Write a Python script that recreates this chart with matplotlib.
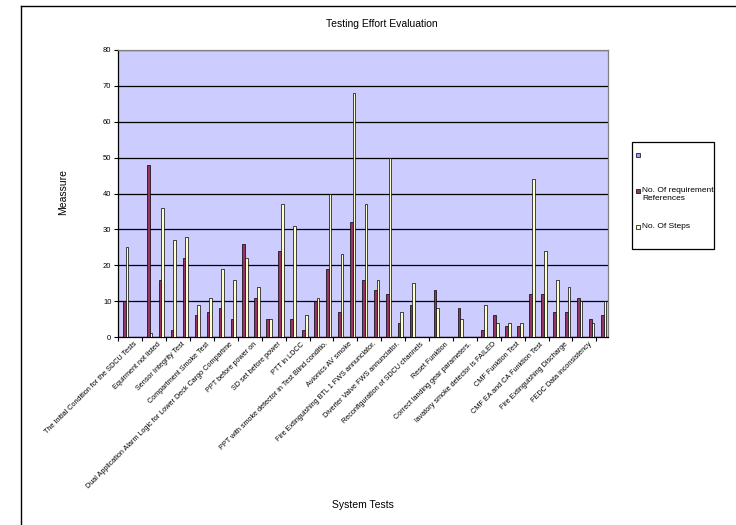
import matplotlib
matplotlib.use("Agg")
import matplotlib.pyplot as plt
import numpy as np
from matplotlib.patches import Rectangle
from matplotlib.lines import Line2D

plt.rcParams['font.family'] = ['Liberation Sans', 'DejaVu Sans']

# ---------------- data ----------------
title = "Testing Effort Evaluation"
x_title = "System Tests"
y_title = "Meassure"
series_names = ["", "No. Of requirement\nReferences", "No. Of Steps"]

# category labels (blank entries are unlabeled categories)
categories = [
    "", "The Initial Condition for the SDCU Tests", "", "Equirment not listed", "",
    "Sensor Integrity Test", "", "Compartment Smoke Test", "",
    "Dual Application Alarm Logic for Lower Deck Cargo Compartme", "",
    "PPT before power on", "", "SD set before power", "", "PTT in LDCC", "",
    "PPT with smoke detector in Test Blind conditio.", "", "Avionics AV smoke", "",
    "Fire Extinguishing BTL 1 FWS annunciator.", "", "Diverter Valve FWS annunciator.", "",
    "Reconfiguration of SDCU channels", "", "Reset Funktion", "",
    "Correct landing gear parameters.", "", "lavatory smoke detector is FAILED", "",
    "CMF Funktion Test", "", "CMF EA and CA Funktion Test", "",
    "Fire Extinguishing Discharge", "", "FEDC Data inconsistency", "",
]

series1 = [0] * 41
req_refs = [10, 0, 48, 16, 2, 22, 6, 7, 8, 5, 26, 11, 5, 24, 5, 2, 10, 19, 7, 32,
            16, 13, 12, 4, 9, 0, 13, 0, 8, 0, 2, 6, 3, 3, 12, 12, 7, 7, 11, 5, 6]
steps = [25, 0, 1, 36, 27, 28, 9, 11, 19, 16, 22, 14, 5, 37, 31, 6, 11, 40, 23, 68,
         37, 16, 50, 7, 15, 0, 8, 0, 5, 0, 9, 4, 4, 4, 44, 24, 16, 14, 10, 4, 10]

y_ticks = [0, 10, 20, 30, 40, 50, 60, 70, 80]

colors = ["#9999FF", "#993366", "#FFFFCC"]
plot_bg = "#CCCCFF"

# ---------------- figure ----------------
W, H = 736, 525
fig = plt.figure(figsize=(W / 100, H / 100), dpi=100)
fig.patch.set_facecolor("white")

def fx(px):
    return px / W

def fy(py):
    return 1 - py / H

left, right, top, bottom = 118.3, 608.3, 50.0, 337.0
ax = fig.add_axes([fx(left), fy(bottom), fx(right) - fx(left), (bottom - top) / H])
ax.set_facecolor(plot_bg)

n = len(categories)
x = np.arange(n)
bw = 1 / 4.5
all_series = [series1, req_refs, steps]
for i, (vals, c) in enumerate(zip(all_series, colors)):
    v = np.array(vals, dtype=float)
    mask = v > 0
    ax.bar(x[mask] + (i - 1) * bw, v[mask], width=bw, color=c,
           edgecolor="black", linewidth=0.5, zorder=3)

ax.set_xlim(-0.5, n - 0.5)
ax.set_ylim(0, 80)
ax.set_yticks(y_ticks)
ax.yaxis.grid(True, color="black", linewidth=0.9, zorder=1)
ax.set_axisbelow(True)
ax.tick_params(axis="y", labelsize=5.5, length=3, width=0.8, pad=2, direction="out")

# x ticks: marks at every second category boundary, labels at category centres
ax.set_xticks(np.arange(-0.5, n, 2))
ax.set_xticklabels([])
ax.tick_params(axis="x", length=3, width=0.8, direction="out")
ax.set_xticks(x, minor=True)
ax.set_xticklabels(categories, minor=True, rotation=45, ha="right",
                   rotation_mode="anchor", fontsize=5.2, va="center")
ax.tick_params(axis="x", which="minor", length=0, pad=4.5)

for s in ["left", "bottom"]:
    ax.spines[s].set_color("black")
    ax.spines[s].set_linewidth(0.9)
for s in ["top", "right"]:
    ax.spines[s].set_color("#808080")
    ax.spines[s].set_linewidth(0.9)

# titles
fig.text(fx(382), fy(24), title, ha="center", va="center", fontsize=7.5)
fig.text(fx(363), fy(505), x_title, ha="center", va="center", fontsize=7.5)
fig.text(fx(63), fy(192), y_title, ha="center", va="center", rotation=90, fontsize=7.5)

# outer chart-area border (right/bottom edges cropped)
fig.add_artist(Line2D([fx(20.7), fx(20.7)], [fy(6), 0], color="black", linewidth=1.0))
fig.add_artist(Line2D([fx(20.7), 1], [fy(6), fy(6)], color="black", linewidth=1.0))

# legend box
lx0, ly0, lx1, ly1 = 632.3, 141.7, 714.3, 249.3
fig.add_artist(Rectangle((fx(lx0), fy(ly1)), fx(lx1) - fx(lx0), (ly1 - ly0) / H,
                         facecolor="white", edgecolor="black", linewidth=0.9,
                         transform=fig.transFigure))
entry_y = [155.0, 190.7, 226.7]
sq = 3.6
for name, c, ey in zip(series_names, colors, entry_y):
    fig.add_artist(Rectangle((fx(637.7 - sq / 2), fy(ey + sq / 2)), sq / W, sq / H,
                             facecolor=c, edgecolor="black", linewidth=0.5,
                             transform=fig.transFigure))
    fig.text(fx(642), fy(ey - 4.2), name, ha="left", va="top",
             fontsize=6, linespacing=1.2)

fig.savefig("out.png", dpi=100, facecolor="white")
